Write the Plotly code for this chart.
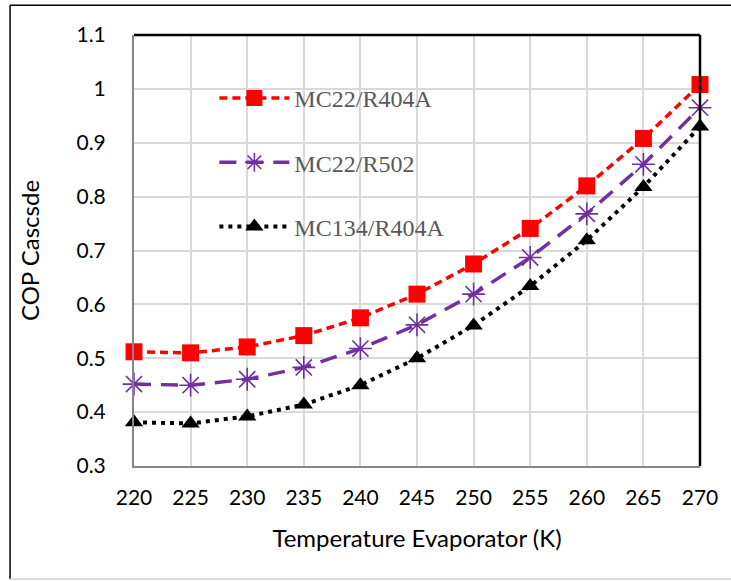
import plotly.graph_objects as go

temps = [220, 225, 230, 235, 240, 245, 250, 255, 260, 265, 270]
mc22_r404a = [0.512, 0.510, 0.521, 0.542, 0.575, 0.619, 0.675, 0.741, 0.820, 0.908, 1.008]
mc22_r502 = [0.452, 0.450, 0.461, 0.483, 0.518, 0.562, 0.619, 0.687, 0.768, 0.860, 0.965]
mc134_r404a = [0.381, 0.379, 0.392, 0.414, 0.450, 0.500, 0.561, 0.634, 0.719, 0.818, 0.930]
series_names = ["MC22/R404A", "MC22/R502", "MC134/R404A"]
y_ticks = [0.3, 0.4, 0.5, 0.6, 0.7, 0.8, 0.9, 1.0, 1.1]
y_ticktext = ["0.3", "0.4", "0.5", "0.6", "0.7", "0.8", "0.9", "1", "1.1"]

fig = go.Figure()
fig.add_trace(go.Scatter(
    x=temps, y=mc22_r404a, name=series_names[0], mode="lines+markers",
    line=dict(color="#ff0000", width=3.5, dash="8px,5px"),
    marker=dict(symbol="square", size=17, color="#ff0000"),
    cliponaxis=False, legendgroup="a"))
fig.add_trace(go.Scatter(
    x=temps, y=mc22_r502, name=series_names[1], mode="lines+markers",
    line=dict(color="#7030a0", width=3.5, dash="17px,10px"),
    marker=dict(symbol="asterisk-open", size=19, color="#7030a0",
                line=dict(color="#7030a0", width=1.6)),
    cliponaxis=False, legendgroup="b"))
fig.add_trace(go.Scatter(
    x=temps, y=mc134_r404a, name=series_names[2], mode="lines+markers",
    line=dict(color="#000000", width=4, dash="4px,5px"),
    marker=dict(symbol="triangle-up", size=16, color="#000000"),
    cliponaxis=False, legendgroup="c"))

fig.update_layout(
    width=731, height=581,
    margin=dict(l=134, r=31, t=35, b=115),
    paper_bgcolor="white", plot_bgcolor="white",
    showlegend=True,
    legend=dict(x=0.142, y=0.905, xanchor="left", yanchor="top",
                bgcolor="rgba(0,0,0,0)", tracegroupgap=30, itemwidth=70,
                font=dict(family="Liberation Serif", size=24, color="#595959")),
    xaxis=dict(range=[220, 270], tickvals=temps, ticktext=[str(t) for t in temps],
               showgrid=True, gridcolor="#d9d9d9", gridwidth=1.5,
               showline=True, linecolor="#868686", linewidth=2,
               ticks="outside", ticklen=12, tickcolor="rgba(0,0,0,0)",
               tickfont=dict(family="Lato", size=21, color="#000000"),
               title=dict(text="Temperature Evaporator (K)", standoff=22,
                          font=dict(family="Lato", size=24, color="#000000")),
               zeroline=False),
    yaxis=dict(range=[0.3, 1.1], tickvals=y_ticks, ticktext=y_ticktext,
               showgrid=True, gridcolor="#d9d9d9", gridwidth=1.5,
               showline=True, linecolor="#868686", linewidth=2,
               ticks="outside", ticklen=22, tickcolor="rgba(0,0,0,0)",
               tickfont=dict(family="Lato", size=21, color="#000000"),
               title=dict(text="COP Cascsde", standoff=30,
                          font=dict(family="Lato", size=24, color="#000000")),
               zeroline=False),
    shapes=[
        dict(type="line", xref="paper", yref="paper", x0=0, x1=1, y0=1, y1=1,
             line=dict(color="#000000", width=2.5)),
        dict(type="line", xref="paper", yref="paper", x0=1, x1=1, y0=0, y1=1,
             line=dict(color="#000000", width=2.5)),
        dict(type="line", xref="paper", yref="paper", x0=-0.219, x1=1.06, y0=1.069, y1=1.069,
             line=dict(color="#000000", width=1.5)),
        dict(type="line", xref="paper", yref="paper", x0=-0.219, x1=-0.219, y0=-0.262, y1=1.069,
             line=dict(color="#000000", width=1.5)),
        dict(type="line", xref="paper", yref="paper", x0=-0.219, x1=1.06, y0=-0.262, y1=-0.262,
             line=dict(color="#d0d0d0", width=1.5)),
    ],
)

fig.write_html("out.html")
